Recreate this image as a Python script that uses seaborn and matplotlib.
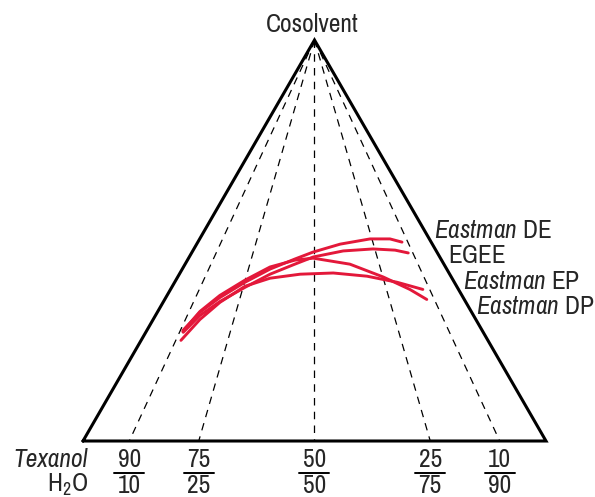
import numpy as np
import pandas as pd
import matplotlib
matplotlib.use("Agg")
import matplotlib.pyplot as plt
import seaborn as sns
from matplotlib import font_manager as fm

# ---- data (percent cosolvent / percent water along each phase boundary) ----
curve_names = ["Eastman DE", "EGEE", "Eastman EP", "Eastman DP"]
de_cosolvent = [27.6, 32.1, 35.8, 39.6, 42.9, 45.4, 47.1, 49.1, 50.4, 50.4, 49.6]
de_water = [7.8, 9.2, 11.7, 15.2, 19.0, 23.1, 26.1, 31.0, 36.8, 41.1, 44.1]
egee_cosolvent = [27.1, 31.3, 34.8, 38.3, 41.6, 44.1, 45.9, 47.4, 47.9, 47.6, 46.9]
egee_water = [8.1, 9.6, 12.2, 15.8, 19.6, 23.7, 26.8, 32.5, 38.7, 43.6, 46.8]
ep_cosolvent = [25.1, 30.3, 34.6, 38.6, 40.6, 41.6, 41.9, 41.1, 39.6, 37.8]
ep_water = [8.6, 10.1, 12.3, 15.7, 20.1, 26.1, 33.1, 40.8, 48.0, 54.5]
dp_cosolvent = [27.3, 32.3, 36.3, 40.1, 43.4, 45.1, 45.6, 44.1, 40.9, 37.8, 35.3]
dp_water = [7.9, 9.1, 11.4, 14.9, 18.7, 23.2, 26.9, 35.6, 44.4, 51.7, 56.6]

grid_texanol = [90, 75, 50, 25, 10]
grid_water = [10, 25, 50, 75, 90]

# ---- fonts ----
names = {f.name for f in fm.fontManager.ttflist}
FONT = "Archivo Narrow" if "Archivo Narrow" in names else "Liberation Sans"

sns.set_style("white")
plt.rcParams["font.family"] = [FONT, "DejaVu Sans"]
plt.rcParams["mathtext.fontset"] = "custom"
plt.rcParams["mathtext.rm"] = FONT
plt.rcParams["mathtext.it"] = FONT + ":italic"

S3 = np.sqrt(3) / 2


def to_xy(cos, wat):
    c = np.asarray(cos) / 100.0
    w = np.asarray(wat) / 100.0
    return w + c / 2, c * S3


rows = []
for name, cs, ws in zip(curve_names,
                        [de_cosolvent, egee_cosolvent, ep_cosolvent, dp_cosolvent],
                        [de_water, egee_water, ep_water, dp_water]):
    X, Y = to_xy(cs, ws)
    for i, (x, y) in enumerate(zip(X, Y)):
        rows.append({"curve": name, "i": i, "X": x, "Y": y})
df = pd.DataFrame(rows)

fig = plt.figure(figsize=(5.95, 4.97), dpi=100)
ax = fig.add_axes([0, 0, 1, 1])
PX = 463.0

# dashed guide lines from apex to base
for w in grid_water:
    ax.plot([0.5, w / 100.0], [S3, 0], color="black", lw=0.9,
            linestyle=(0, (6, 5)), zorder=1)

# triangle
ax.plot([0, 1, 0.5, 0], [0, 0, S3, 0], color="black", lw=2.2,
        solid_joinstyle="miter", zorder=3)

sns.lineplot(data=df, x="X", y="Y", hue="curve", units="curve", estimator=None,
             sort=False, palette=["#E3183A"] * 4, legend=False, lw=2.1, ax=ax,
             zorder=2)
ax.set_xlim(-83 / PX, (595 - 83) / PX)
ax.set_ylim(-(497 - 441) / PX, 441 / PX)
ax.axis("off")


def px(x, y):
    return (x - 83) / PX, (441 - y) / PX


FS = 18.3
ax.text(*px(312.5, 32), "Cosolvent", ha="center", va="baseline", fontsize=FS)

label_pos = [(434, 238), (448, 263), (463, 289), (476, 314)]
label_txt = ["$\\it{Eastman}$ DE", "EGEE", "$\\it{Eastman}$ EP", "$\\it{Eastman}$ DP"]
for (x, y), t in zip(label_pos, label_txt):
    ax.text(*px(x, y), t, ha="left", va="baseline", fontsize=FS)

ax.text(*px(88, 467), "Texanol", ha="right", va="baseline", fontsize=FS,
        style="italic")
ax.text(*px(88, 492), "H$_2$O", ha="right", va="baseline", fontsize=FS)

for t, w in zip(grid_texanol, grid_water):
    xc = w / 100.0
    ax.text(xc, (441 - 467) / PX, str(t), ha="center", va="baseline", fontsize=FS)
    ax.text(xc, (441 - 493) / PX, str(w), ha="center", va="baseline", fontsize=FS)
    ax.plot([xc - 15 / PX, xc + 15 / PX], [(441 - 472.5) / PX] * 2,
            color="black", lw=1.4)

fig.savefig("out.png", dpi=100)
